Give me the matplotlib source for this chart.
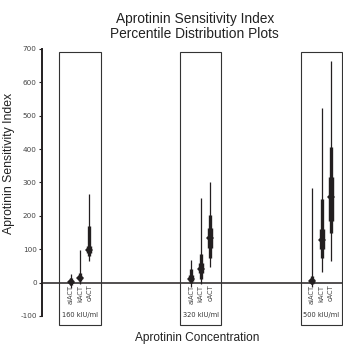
import matplotlib.pyplot as plt
from matplotlib.patches import Rectangle

# ── Data ──────────────────────────────────────────────────────────────────────
concentrations = ["160 kIU/ml", "320 kIU/ml", "500 kIU/ml"]
tests = ["aiACT", "kACT", "cACT"]

# percentiles per glyph, order: 160 (ai, k, c), 320 (ai, k, c), 500 (ai, k, c)
p_min = [-15, -5, 65,   -12, -5, 46,   -13, 33, 66]
p10   = [-6, 5, 80,     -2, 12, 74,    -5, 74, 150]
p25   = [0, 10, 90,     5, 28, 105,    0, 100, 185]
p50   = [3, 14, 97,     12, 42, 133,   6, 128, 257]
p75   = [8, 18, 110,    22, 58, 165,   12, 160, 317]
p90   = [14, 28, 170,   40, 85, 202,   20, 250, 407]
p_max = [25, 97, 265,   68, 254, 301,  283, 522, 665]

yticks = [-100, 0, 100, 200, 300, 400, 500, 600, 700]

ink = "#231f20"

fig = plt.figure(figsize=(3.43, 3.44), dpi=100)
ax = fig.add_axes([0.1213, 0.0814, 0.8787, 0.7762])

offsets = [-0.078, 0.0, 0.078]
k = 0
for g, conc in enumerate(concentrations):
    xc = g + 1
    # box around each group
    ax.add_patch(Rectangle((xc - 0.17, -127), 0.34, 817, fill=False,
                           edgecolor="#333333", linewidth=0.8, clip_on=False))
    ax.text(xc, -97, conc, ha="center", va="center", fontsize=4.8,
            color="#333333", clip_on=False)
    for i, t in enumerate(tests):
        x = xc + offsets[i]
        ax.plot([x, x], [p_min[k], p_max[k]], color=ink, lw=0.9,
                solid_capstyle="butt")
        ax.plot([x, x], [p10[k], p90[k]], color=ink, lw=2.4,
                solid_capstyle="butt")
        ax.plot([x, x], [p25[k], p75[k]], color=ink, lw=3.9,
                solid_capstyle="butt")
        ax.plot(x, p50[k], marker="D", markersize=4.0, color=ink,
                markeredgewidth=0)
        ax.text(x, -6, t, rotation=90, ha="center", va="top", fontsize=4.8,
                color="#444444")
        k += 1

ax.axhline(0, color=ink, lw=1.1, zorder=0)

ax.set_xlim(0.682, 3.178)
ax.set_ylim(-100, 700)
ax.set_yticks(yticks)
ax.set_yticklabels([str(v) for v in yticks], fontsize=5.2, color="#444444")
ax.tick_params(axis="y", length=2, width=0.8, pad=1.5, color=ink)
ax.set_xticks([])
for s in ["top", "right", "bottom"]:
    ax.spines[s].set_visible(False)
ax.spines["left"].set_linewidth(1.4)
ax.spines["left"].set_color(ink)

ax.set_ylabel("Aprotinin Sensitivity Index", fontsize=8.8, family="Liberation Sans",
              color="#222222")
ax.yaxis.set_label_coords(-0.088, 0.573)
fig.text(0.575, 0.0174, "Aprotinin Concentration", ha="center", va="center",
         fontsize=8.6, family="Liberation Sans", color="#222222")
fig.text(0.568, 0.922, "Aprotinin Sensitivity Index\nPercentile Distribution Plots",
         ha="center", va="center", fontsize=9.9, family="Liberation Sans",
         linespacing=1.12, color="#222222")

fig.savefig("out.png", dpi=100)
